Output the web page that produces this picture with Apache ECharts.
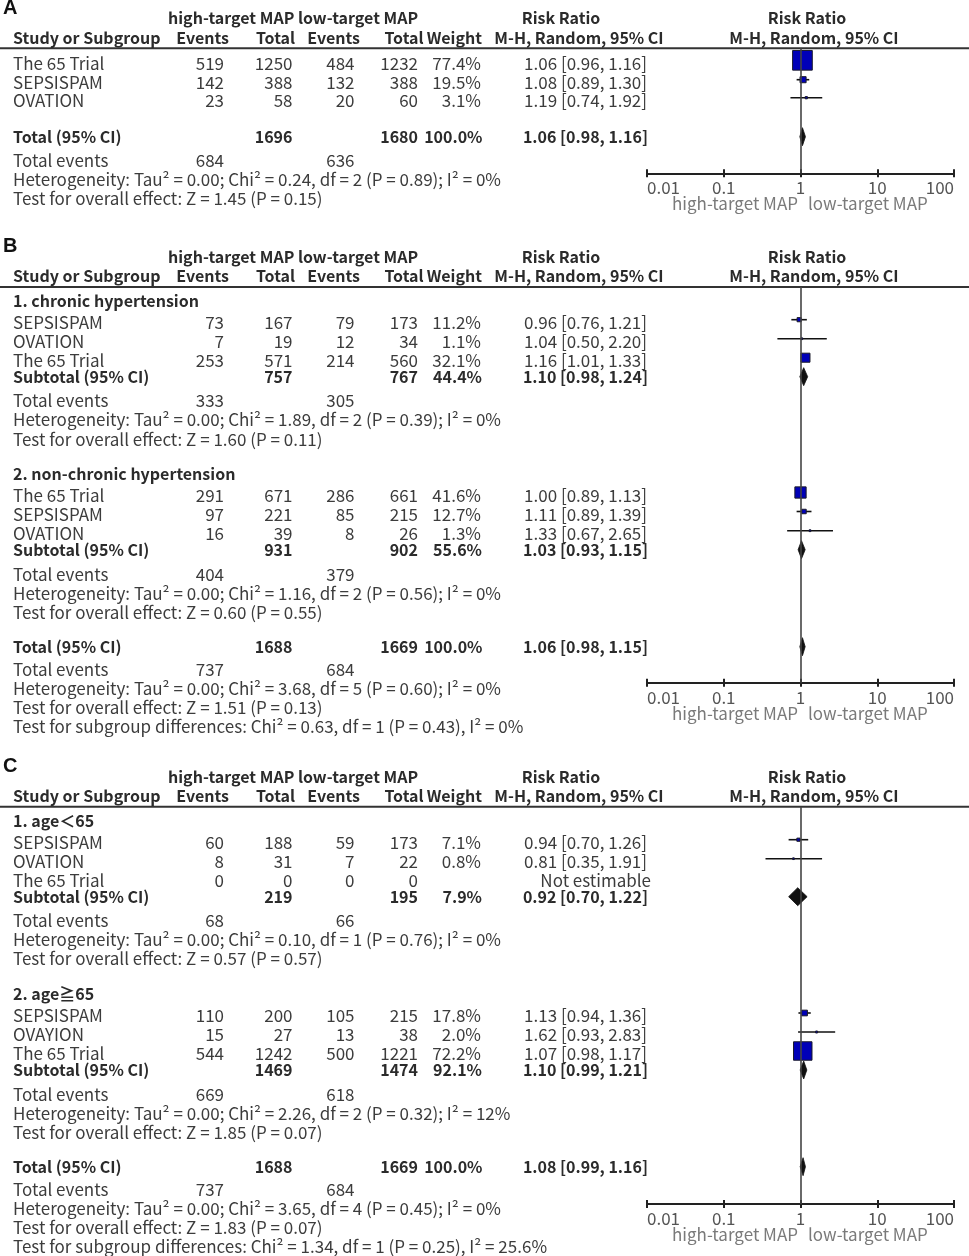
<!DOCTYPE html>
<html><head><meta charset="utf-8">
<script src="https://cdn.jsdelivr.net/npm/echarts@6/dist/echarts.min.js"></script>
<style>html,body{margin:0;padding:0;background:#fff}#c{width:969px;height:1256px}</style>
</head><body><div id="c"></div>
<script>
// ================= DATA =================
const tickLabels = ["0.01", "0.1", "1", "10", "100"];
const groupHeader = "high-target MAP low-target MAP";
const favourLeft = "high-target MAP";
const favourRight = "low-target MAP";

// ---- Panel A ----
const A_studies = ["The 65 Trial", "SEPSISPAM", "OVATION"];
const A_highEvents = [519, 142, 23];
const A_highTotal = [1250, 388, 58];
const A_lowEvents = [484, 132, 20];
const A_lowTotal = [1232, 388, 60];
const A_weight = [77.4, 19.5, 3.1];
const A_rr = [1.06, 1.08, 1.19];
const A_lo = [0.96, 0.89, 0.74];
const A_hi = [1.16, 1.30, 1.92];
const A_totalN = [1696, 1680, 100.0];
const A_totalRR = [1.06, 0.98, 1.16];
const A_totalEvents = [684, 636];
const A_het = "Heterogeneity: Tau² = 0.00; Chi² = 0.24, df = 2 (P = 0.89); I² = 0%";
const A_test = "Test for overall effect: Z = 1.45 (P = 0.15)";

// ---- Panel B, subgroup 1 ----
const B1_name = "1. chronic hypertension";
const B1_studies = ["SEPSISPAM", "OVATION", "The 65 Trial"];
const B1_highEvents = [73, 7, 253];
const B1_highTotal = [167, 19, 571];
const B1_lowEvents = [79, 12, 214];
const B1_lowTotal = [173, 34, 560];
const B1_weight = [11.2, 1.1, 32.1];
const B1_rr = [0.96, 1.04, 1.16];
const B1_lo = [0.76, 0.50, 1.01];
const B1_hi = [1.21, 2.20, 1.33];
const B1_subN = [757, 767, 44.4];
const B1_subRR = [1.10, 0.98, 1.24];
const B1_events = [333, 305];
const B1_het = "Heterogeneity: Tau² = 0.00; Chi² = 1.89, df = 2 (P = 0.39); I² = 0%";
const B1_test = "Test for overall effect: Z = 1.60 (P = 0.11)";
// ---- Panel B, subgroup 2 ----
const B2_name = "2. non-chronic hypertension";
const B2_studies = ["The 65 Trial", "SEPSISPAM", "OVATION"];
const B2_highEvents = [291, 97, 16];
const B2_highTotal = [671, 221, 39];
const B2_lowEvents = [286, 85, 8];
const B2_lowTotal = [661, 215, 26];
const B2_weight = [41.6, 12.7, 1.3];
const B2_rr = [1.00, 1.11, 1.33];
const B2_lo = [0.89, 0.89, 0.67];
const B2_hi = [1.13, 1.39, 2.65];
const B2_subN = [931, 902, 55.6];
const B2_subRR = [1.03, 0.93, 1.15];
const B2_events = [404, 379];
const B2_het = "Heterogeneity: Tau² = 0.00; Chi² = 1.16, df = 2 (P = 0.56); I² = 0%";
const B2_test = "Test for overall effect: Z = 0.60 (P = 0.55)";
// ---- Panel B, total ----
const B_totalN = [1688, 1669, 100.0];
const B_totalRR = [1.06, 0.98, 1.15];
const B_totalEvents = [737, 684];
const B_het = "Heterogeneity: Tau² = 0.00; Chi² = 3.68, df = 5 (P = 0.60); I² = 0%";
const B_test = "Test for overall effect: Z = 1.51 (P = 0.13)";
const B_diff = "Test for subgroup differences: Chi² = 0.63, df = 1 (P = 0.43), I² = 0%";

// ---- Panel C, subgroup 1 ----
const C1_name = "1. age＜65";
const C1_studies = ["SEPSISPAM", "OVATION", "The 65 Trial"];
const C1_highEvents = [60, 8, 0];
const C1_highTotal = [188, 31, 0];
const C1_lowEvents = [59, 7, 0];
const C1_lowTotal = [173, 22, 0];
const C1_weight = [7.1, 0.8, null];
const C1_rr = [0.94, 0.81, null];
const C1_lo = [0.70, 0.35, null];
const C1_hi = [1.26, 1.91, null];
const C1_subN = [219, 195, 7.9];
const C1_subRR = [0.92, 0.70, 1.22];
const C1_events = [68, 66];
const C1_het = "Heterogeneity: Tau² = 0.00; Chi² = 0.10, df = 1 (P = 0.76); I² = 0%";
const C1_test = "Test for overall effect: Z = 0.57 (P = 0.57)";
// ---- Panel C, subgroup 2 ----
const C2_name = "2. age≧65";
const C2_studies = ["SEPSISPAM", "OVAYION", "The 65 Trial"];
const C2_highEvents = [110, 15, 544];
const C2_highTotal = [200, 27, 1242];
const C2_lowEvents = [105, 13, 500];
const C2_lowTotal = [215, 38, 1221];
const C2_weight = [17.8, 2.0, 72.2];
const C2_rr = [1.13, 1.62, 1.07];
const C2_lo = [0.94, 0.93, 0.98];
const C2_hi = [1.36, 2.83, 1.17];
const C2_subN = [1469, 1474, 92.1];
const C2_subRR = [1.10, 0.99, 1.21];
const C2_events = [669, 618];
const C2_het = "Heterogeneity: Tau² = 0.00; Chi² = 2.26, df = 2 (P = 0.32); I² = 12%";
const C2_test = "Test for overall effect: Z = 1.85 (P = 0.07)";
// ---- Panel C, total ----
const C_totalN = [1688, 1669, 100.0];
const C_totalRR = [1.08, 0.99, 1.16];
const C_totalEvents = [737, 684];
const C_het = "Heterogeneity: Tau² = 0.00; Chi² = 3.65, df = 4 (P = 0.45); I² = 0%";
const C_test = "Test for overall effect: Z = 1.83 (P = 0.07)";
const C_diff = "Test for subgroup differences: Chi² = 1.34, df = 1 (P = 0.25), I² = 25.6%";

// ================= STRUCTURE (built from data) =================
function grp(name, st, he, ht, le, lt, w, rr, lo, hi, subN, subRR, ev, het, test) {
  return {name, st, he, ht, le, lt, w, rr, lo, hi, subN, subRR, ev, het, test};
}
const panels = [
  { letter: "A",
    groups: [grp(null, A_studies, A_highEvents, A_highTotal, A_lowEvents, A_lowTotal, A_weight, A_rr, A_lo, A_hi, null, null, null, null, null)],
    total: {n: A_totalN, rr: A_totalRR, ev: A_totalEvents, het: A_het, test: A_test, diff: null} },
  { letter: "B",
    groups: [
      grp(B1_name, B1_studies, B1_highEvents, B1_highTotal, B1_lowEvents, B1_lowTotal, B1_weight, B1_rr, B1_lo, B1_hi, B1_subN, B1_subRR, B1_events, B1_het, B1_test),
      grp(B2_name, B2_studies, B2_highEvents, B2_highTotal, B2_lowEvents, B2_lowTotal, B2_weight, B2_rr, B2_lo, B2_hi, B2_subN, B2_subRR, B2_events, B2_het, B2_test)],
    total: {n: B_totalN, rr: B_totalRR, ev: B_totalEvents, het: B_het, test: B_test, diff: B_diff} },
  { letter: "C",
    groups: [
      grp(C1_name, C1_studies, C1_highEvents, C1_highTotal, C1_lowEvents, C1_lowTotal, C1_weight, C1_rr, C1_lo, C1_hi, C1_subN, C1_subRR, C1_events, C1_het, C1_test),
      grp(C2_name, C2_studies, C2_highEvents, C2_highTotal, C2_lowEvents, C2_lowTotal, C2_weight, C2_rr, C2_lo, C2_hi, C2_subN, C2_subRR, C2_events, C2_het, C2_test)],
    total: {n: C_totalN, rr: C_totalRR, ev: C_totalEvents, het: C_het, test: C_test, diff: C_diff} }
];

// ================= LAYOUT (pixel offsets, styling) =================
const PANEL_TOP = [18.3, 256.7, 776.7];
const LAYOUT = [
  { line: 30, axis: 155, groups: [{h: null, rows: [45, 64.4, 82.4]}],
    total: {row: 118.4, ev: 142.4, het: 161, test: 180.7, diff: null} },
  { line: 30.3, axis: 426, groups: [
      {h: 44.3, rows: [66, 85, 104], sub: 120, ev: 144.2, het: 163.3, test: 182.5},
      {h: 217.6, rows: [238.8, 257.8, 277], sub: 293, ev: 317.6, het: 336.6, test: 356}],
    total: {row: 390, ev: 412.6, het: 431.6, test: 451, diff: 470} },
  { line: 30, axis: 427.3, groups: [
      {h: 44.3, rows: [66, 85, 104], sub: 120, ev: 144.3, het: 163.3, test: 182.3},
      {h: 217.6, rows: [239.3, 258.3, 277.3], sub: 293.3, ev: 317.6, het: 336.6, test: 356}],
    total: {row: 390, ev: 412.6, het: 431.6, test: 451, diff: 470} }
];
const COL = {name: 13, hiEv: 224, hiTot: 292.5, loEv: 354.5, loTot: 418, weight: 481, rr: 647};
const HCOL = {ev1: 229, tot1: 295, ev2: 360, tot2: 423.5, weight: 482, rrText: 561, mhText: 579, rrPlot: 807, mhPlot: 814, group: 168};
const FONT = '"Noto Sans CJK JP", "Noto Sans", sans-serif';
const FS = 17, FSB = 16;
const TXT = '#3c3c3c', BOLDC = '#2b2b2b', AXC = '#555', FAVC = '#7a7a7a';
const PLOT_L = 647, PLOT_R = 969 - 954;

const graphics = [];
function txt(s, x, y, o) {
  o = o || {};
  graphics.push({ type: 'text', silent: true, z: 10,
    style: { text: String(s), x: x, y: y, fill: o.fill || (o.bold ? BOLDC : TXT),
      fontSize: o.size || (o.bold ? FSB : FS), fontFamily: o.family || FONT, fontWeight: o.bold ? 'bold' : 'normal',
      align: o.align || 'left', verticalAlign: 'middle' } });
}
function hline(y) {
  graphics.push({ type: 'line', silent: true, shape: {x1: 0, y1: y, x2: 969, y2: y}, style: {stroke: '#333', lineWidth: 2} });
}
const f2 = v => v.toFixed(2);
const rrStr = (r, l, h) => f2(r) + " [" + f2(l) + ", " + f2(h) + "]";
const wStr = w => w.toFixed(1) + "%";

const grids = [], xAxes = [], yAxes = [], series = [];

panels.forEach((p, k) => {
  const T = PANEL_TOP[k], L = LAYOUT[k];
  // panel letter
  txt(p.letter, 3, T - 9.8, {bold: true, size: 20, family: '"Liberation Sans", Arial, sans-serif', fill: '#111'});
  // headers
  txt(groupHeader, HCOL.group, T, {bold: true});
  txt("Risk Ratio", HCOL.rrText, T, {bold: true, align: 'center'});
  txt("Risk Ratio", HCOL.rrPlot, T, {bold: true, align: 'center'});
  const H2 = T + 19.5;
  txt("Study or Subgroup", COL.name, H2, {bold: true});
  txt("Events", HCOL.ev1, H2, {bold: true, align: 'right'});
  txt("Total", HCOL.tot1, H2, {bold: true, align: 'right'});
  txt("Events", HCOL.ev2, H2, {bold: true, align: 'right'});
  txt("Total", HCOL.tot2, H2, {bold: true, align: 'right'});
  txt("Weight", HCOL.weight, H2, {bold: true, align: 'right'});
  txt("M-H, Random, 95% CI", HCOL.mhText, H2, {bold: true, align: 'center'});
  txt("M-H, Random, 95% CI", HCOL.mhPlot, H2, {bold: true, align: 'center'});
  hline(T + L.line);

  const ciData = [], sqData = [], dmData = [];
  p.groups.forEach((g, gi) => {
    const GL = L.groups[gi];
    if (g.name) txt(g.name, COL.name, T + GL.h, {bold: true});
    g.st.forEach((s, i) => {
      const y = T + GL.rows[i];
      txt(s, COL.name, y);
      txt(g.he[i], COL.hiEv, y, {align: 'right'});
      txt(g.ht[i], COL.hiTot, y, {align: 'right'});
      txt(g.le[i], COL.loEv, y, {align: 'right'});
      txt(g.lt[i], COL.loTot, y, {align: 'right'});
      if (g.w[i] != null) txt(wStr(g.w[i]), COL.weight, y, {align: 'right'});
      if (g.rr[i] != null) {
        txt(rrStr(g.rr[i], g.lo[i], g.hi[i]), COL.rr, y, {align: 'right'});
        ciData.push([g.lo[i], g.hi[i], GL.rows[i] - 3]);
        sqData.push([g.rr[i], GL.rows[i] - 3, g.w[i]]);
      } else {
        txt("Not estimable", COL.rr + 4, y, {align: 'right'});
      }
    });
    if (g.subN) {
      const y = T + GL.sub;
      txt("Subtotal (95% CI)", COL.name, y, {bold: true});
      txt(g.subN[0], COL.hiTot, y, {bold: true, align: 'right'});
      txt(g.subN[1], COL.loTot, y, {bold: true, align: 'right'});
      txt(wStr(g.subN[2]), COL.weight + 1, y, {bold: true, align: 'right'});
      txt(rrStr(g.subRR[0], g.subRR[1], g.subRR[2]), COL.rr + 1, y, {bold: true, align: 'right'});
      dmData.push([g.subRR[0], g.subRR[1], g.subRR[2], GL.sub]);
      txt("Total events", COL.name, T + GL.ev);
      txt(g.ev[0], COL.hiEv, T + GL.ev, {align: 'right'});
      txt(g.ev[1], COL.loEv, T + GL.ev, {align: 'right'});
      txt(g.het, COL.name, T + GL.het);
      txt(g.test, COL.name, T + GL.test);
    }
  });
  // total
  const t = p.total, TL = L.total;
  txt("Total (95% CI)", COL.name, T + TL.row, {bold: true});
  txt(t.n[0], COL.hiTot, T + TL.row, {bold: true, align: 'right'});
  txt(t.n[1], COL.loTot, T + TL.row, {bold: true, align: 'right'});
  txt(wStr(t.n[2]), COL.weight + 1.5, T + TL.row, {bold: true, align: 'right'});
  txt(rrStr(t.rr[0], t.rr[1], t.rr[2]), COL.rr + 1, T + TL.row, {bold: true, align: 'right'});
  dmData.push([t.rr[0], t.rr[1], t.rr[2], TL.row]);
  txt("Total events", COL.name, T + TL.ev);
  txt(t.ev[0], COL.hiEv, T + TL.ev, {align: 'right'});
  txt(t.ev[1], COL.loEv, T + TL.ev, {align: 'right'});
  txt(t.het, COL.name, T + TL.het);
  txt(t.test, COL.name, T + TL.test);
  if (t.diff) txt(t.diff, COL.name, T + TL.diff);

  // favour labels
  const axisY = T + L.axis;
  txt(favourLeft, 798, axisY + 30.5, {align: 'right', fill: FAVC});
  txt(favourRight, 808, axisY + 30.5, {fill: FAVC});

  // grid & axes
  grids.push({left: PLOT_L, right: PLOT_R, top: T + L.line, height: L.axis - L.line, containLabel: false});
  const xBase = {type: 'log', logBase: 10, min: 0.01, max: 100, interval: 1, gridIndex: k, position: 'bottom', splitLine: {show: false}, minorTick: {show: false}};
  xAxes.push(Object.assign({}, xBase, {
    axisLine: {show: true, lineStyle: {color: '#222', width: 2}},
    axisTick: {show: true, inside: false, length: 4, lineStyle: {color: '#222', width: 2}},
    axisLabel: {show: true, color: AXC, fontSize: FS, fontFamily: FONT, margin: 6,
      alignMinLabel: 'left', alignMaxLabel: 'right',
      formatter: v => tickLabels[Math.round(Math.log10(v)) + 2]}
  }));
  xAxes.push(Object.assign({}, xBase, {
    axisLine: {show: false},
    axisTick: {show: true, inside: true, length: 4, lineStyle: {color: '#222', width: 2}},
    axisLabel: {show: false}
  }));
  yAxes.push({type: 'value', gridIndex: k, min: L.line, max: L.axis, inverse: true, show: false});
  const xi = 2 * k;

  series.push({
    type: 'custom', xAxisIndex: xi, yAxisIndex: k, clip: false, silent: true, z: 2,
    encode: {x: [0, 1], y: 2}, data: ciData,
    renderItem: (params, api) => {
      const a = api.coord([api.value(0), api.value(2)]);
      const b = api.coord([api.value(1), api.value(2)]);
      return {type: 'line', shape: {x1: a[0], y1: a[1], x2: b[0], y2: b[1]}, style: {stroke: '#111', lineWidth: 1.6}};
    },
    markLine: {silent: true, symbol: 'none', animation: false, label: {show: false},
      lineStyle: {color: '#444', width: 1.6, type: 'solid'}, data: [{xAxis: 1}]}
  });
  series.push({
    type: 'custom', xAxisIndex: xi, yAxisIndex: k, clip: false, silent: true, z: 3,
    encode: {x: 0, y: 1}, data: sqData,
    renderItem: (params, api) => {
      const c = api.coord([api.value(0), api.value(1)]);
      const s = 1.5 + 0.235 * api.value(2);
      return {type: 'rect', shape: {x: c[0] - s / 2, y: c[1] - s / 2, width: s, height: s},
        style: {fill: '#0000b8', stroke: '#1a1a2a', lineWidth: 1}};
    }
  });
  series.push({
    type: 'custom', xAxisIndex: xi, yAxisIndex: k, clip: false, silent: true, z: 3,
    encode: {x: [0, 1, 2], y: 3}, data: dmData,
    renderItem: (params, api) => {
      const c = api.coord([api.value(0), api.value(3)]);
      const l = api.coord([api.value(1), api.value(3)]);
      const r = api.coord([api.value(2), api.value(3)]);
      const h = 9;
      return {type: 'polygon', shape: {points: [[l[0], c[1]], [c[0], c[1] - h], [r[0], c[1]], [c[0], c[1] + h]]},
        style: {fill: '#111', stroke: '#111', lineWidth: 0.8}};
    }
  });
});

const chart = echarts.init(document.getElementById('c'), null, {renderer: 'canvas'});
chart.setOption({
  animation: false,
  backgroundColor: '#fff',
  grid: grids, xAxis: xAxes, yAxis: yAxes, series: series,
  graphic: graphics
});
</script></body></html>
